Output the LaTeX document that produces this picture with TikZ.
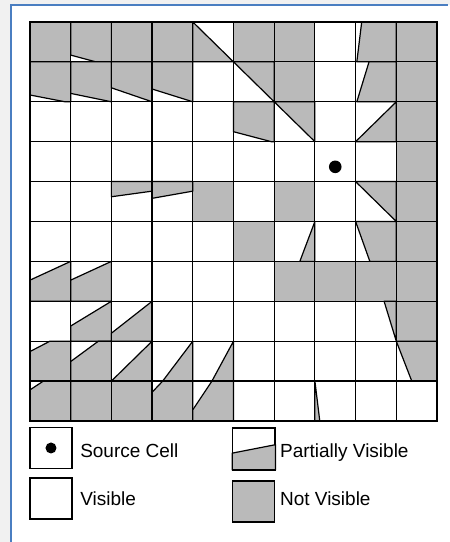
\documentclass[tikz,border=0pt]{standalone}
\usepackage{fontspec}
\setmainfont{Liberation Sans}
\usepackage{tikz}
\usetikzlibrary{calc}
\definecolor{frameblue}{RGB}{74,126,193}
\definecolor{screengray}{RGB}{241,241,241}

\begin{document}
\begin{tikzpicture}[x=40.7bp,y=39.9bp]
	\tikzset{
		hidden/.style={fill=black!27},
		part/.style={fill=black!27,draw=black,line width=1.2bp,line join=round},
		gridline/.style={line width=1.2bp},
		outline/.style={line width=2.2bp},
		keybox/.style={draw,line width=1.3bp,minimum width=42bp,minimum height=41bp,inner sep=0pt},
		keytext/.style={anchor=base west,inner sep=0pt,font=\fontsize{19bp}{22bp}\selectfont}
	}
	\useasboundingbox (-0.737,-3.033) rectangle (10.319,10.551);
	
	\fill[screengray] (-0.737,-3.033) rectangle (-0.479,10.551);
	\fill[screengray] (-0.737,10.414) rectangle (10.319,10.551);
	\draw[frameblue,line width=2bp] (-0.479,-3.1) -- (-0.479,10.414) -- (10.27,10.414);
	
	\foreach \c/\r in {0/9,2/9,3/9,5/9,6/9,9/9,6/8,9/8,9/7,9/6,4/5,6/5,9/5,5/4,9/4,6/3,7/3,8/3,9/3,9/2,1/0,2/0}
		\fill[hidden] (\c,\r) rectangle ++(1,1);
	
	\filldraw[part,shift={(1,9)}] (0,.17) -- (.62,0) -- (1,0) -- (1,1) -- (0,1) -- cycle;
	\filldraw[part,shift={(4,9)}] (0,1) -- (0,0) -- (1,0) -- cycle;
	\filldraw[part,shift={(8,9)}] (.03,0) -- (1,0) -- (1,1) -- (.15,1) -- cycle;
	\filldraw[part,shift={(0,8)}] (0,.17) -- (.86,0) -- (1,0) -- (1,1) -- (0,1) -- cycle;
	\filldraw[part,shift={(1,8)}] (0,.21) -- (1,0) -- (1,1) -- (0,1) -- cycle;
	\filldraw[part,shift={(2,8)}] (0,.35) -- (1,0) -- (1,1) -- (0,1) -- cycle;
	\filldraw[part,shift={(3,8)}] (0,.32) -- (1,0) -- (1,1) -- (0,1) -- cycle;
	\filldraw[part,shift={(5,8)}] (0,1) -- (1,1) -- (1,0) -- cycle;
	\filldraw[part,shift={(8,8)}] (.03,0) -- (1,0) -- (1,1) -- (.33,1) -- cycle;
	\filldraw[part,shift={(5,7)}] (0,.25) -- (.93,0) -- (1,0) -- (1,1) -- (0,1) -- cycle;
	\filldraw[part,shift={(6,7)}] (0,1) -- (1,1) -- (1,0) -- cycle;
	\filldraw[part,shift={(8,7)}] (0,0) -- (1,0) -- (1,1) -- cycle;
	\filldraw[part,shift={(2,5)}] (0,.62) -- (1,.76) -- (1,1) -- (0,1) -- cycle;
	\filldraw[part,shift={(3,5)}] (0,.58) -- (1,.76) -- (1,1) -- (0,1) -- cycle;
	\filldraw[part,shift={(8,5)}] (0,1) -- (1,1) -- (1,0) -- cycle;
	\filldraw[part,shift={(6,4)}] (.63,0) -- (1,0) -- (1,1) -- cycle;
	\filldraw[part,shift={(8,4)}] (0,1) -- (1,1) -- (1,0) -- (.35,0) -- cycle;
	\filldraw[part,shift={(0,3)}] (0,0) -- (1,0) -- (1,1) -- (0,.53) -- cycle;
	\filldraw[part,shift={(1,3)}] (0,0) -- (1,0) -- (1,1) -- (0,.53) -- cycle;
	\filldraw[part,shift={(1,2)}] (0,0) -- (1,0) -- (1,1) -- (0,.38) -- cycle;
	\filldraw[part,shift={(2,2)}] (0,0) -- (1,0) -- (1,1) -- (0,.2) -- cycle;
	\filldraw[part,shift={(8,2)}] (.7,1) -- (1,1) -- (1,0) -- cycle;
	\filldraw[part,shift={(0,1)}] (0,0) -- (1,0) -- (1,1) -- (.49,1) -- (0,.74) -- cycle;
	\filldraw[part,shift={(1,1)}] (0,0) -- (1,0) -- (1,1) -- (.68,1) -- (0,.49) -- cycle;
	\filldraw[part,shift={(2,1)}] (0,0) -- (1,0) -- (1,1) -- cycle;
	\filldraw[part,shift={(3,1)}] (.26,0) -- (1,0) -- (1,1) -- cycle;
	\filldraw[part,shift={(4,1)}] (.47,0) -- (1,0) -- (1,1) -- cycle;
	\filldraw[part,shift={(9,1)}] (0,1) -- (1,1) -- (1,0) -- (.38,0) -- cycle;
	\filldraw[part,shift={(0,0)}] (0,0) -- (1,0) -- (1,1) -- (.33,1) -- (0,.78) -- cycle;
	\filldraw[part,shift={(3,0)}] (0,0) -- (1,0) -- (1,1) -- (.26,1) -- (0,.72) -- cycle;
	\filldraw[part,shift={(4,0)}] (0,0) -- (1,0) -- (1,1) -- (.47,1) -- (0,.28) -- cycle;
	\filldraw[part,shift={(7,0)}] (0,1) -- (0,0) -- (.12,0) -- cycle;
	
	\foreach \i in {1,...,9} {
		\draw[gridline] (\i,0) -- (\i,10);
		\draw[gridline] (0,\i) -- (10,\i);
	}
	\draw[outline] (0,0) rectangle (10,10);
	\fill (7.5,6.37) circle (6.3bp);
	
	% legend
	\node[keybox] (srckey) at (0.516,-0.677) {};
	\node[keybox] (viskey) at (0.516,-1.94) {};
	\node[keybox,fill=black!27] (hidkey) at (5.5,-2.02) {};
	\node[keybox] (partkey) at (5.5,-0.70) {};
	\fill (srckey.center) circle (5.5bp);
	\filldraw[part] (partkey.south west) -- (partkey.south east)
		-- ($(partkey.south east)!0.6!(partkey.north east)$)
		-- ($(partkey.south west)!0.4!(partkey.north west)$) -- cycle;
	\draw[line width=1.3bp] (partkey.south west) rectangle (partkey.north east);
	
	\node[keytext] (srctxt) at (1.23,-0.91) {Source Cell};
	\node[keytext] (vistxt) at (1.23,-2.11) {Visible};
	\node[keytext] (parttxt) at (6.14,-0.91) {Partially Visible};
	\node[keytext] (hidtxt) at (6.14,-2.11) {Not Visible};
\end{tikzpicture}
\end{document}
